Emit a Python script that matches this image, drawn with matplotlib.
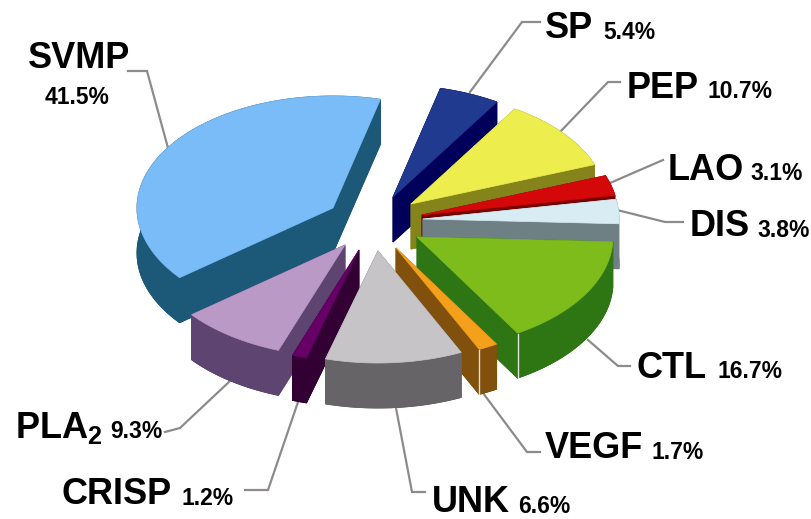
import numpy as np
import matplotlib
matplotlib.use("Agg")
import matplotlib.pyplot as plt
from matplotlib.patches import Polygon

plt.rcParams['font.family'] = ['Liberation Sans', 'DejaVu Sans']
plt.rcParams['mathtext.fontset'] = 'custom'
plt.rcParams['mathtext.bf'] = 'Liberation Sans:bold'
plt.rcParams['mathtext.rm'] = 'Liberation Sans:bold'

# Data, clockwise from the top
categories = ['SP', 'PEP', 'LAO', 'DIS', 'CTL', 'VEGF', 'UNK', 'CRISP', 'PLA$_{\\mathbf{2}}$', 'SVMP']
printed_pct = [5.4, 10.7, 3.1, 3.8, 16.7, 1.7, 6.6, 1.2, 9.3, 41.5]
# shares as the slices are actually drawn in the picture (UNK is drawn wider than printed)
drawn_share = [5.0, 10.4, 2.9, 3.5, 15.75, 1.6, 11.3, 1.2, 8.8, 39.6]

top_colors = ['#203A90', '#EDEE4E', '#D40808', '#D8ECF4', '#7EBC1C',
              '#F4A01A', '#C6C4C6', '#660066', '#BB99C6', '#7ABCF8']
wall_colors = ['#00005A', '#85841A', '#7A0000', '#6E8084', '#2E7614',
               '#80500C', '#666466', '#330033', '#5E4470', '#1C5878']
explode_x = [18, 36, 47, 48, 42, 21, 3, -16, -30, -42]
explode_y = [-28, -21, -10, -6, 12, 23, 26, 25, 20, -17]
draw_order = [0, 1, 2, 3, 4, 5, 9, 8, 7, 6]
seam_slices = (4, 5)

CX, CY, RX, RY, DEPTH, START = 375, 225, 196, 112, 45, 14

# label: name x, name baseline y, pct x, pct baseline y
label_pos = [(545, 38, 603, 39), (627, 98, 708, 98), (668, 180, 750, 180),
             (690, 236, 757, 237), (637, 378, 718, 378), (545, 458, 652, 459),
             (432, 512, 518, 513), (62, 504, 182, 505), (15, 438, 110, 438),
             (28, 68, 45, 104)]
leaders = [[(540, 22), (522, 22), (470, 92)],
           [(620, 82), (608, 82), (560, 132)],
           [(663, 160), (610, 183)],
           [(683, 222), (665, 222), (617, 210)],
           [(588, 340), (618, 366), (630, 366)],
           [(483, 393), (527, 452), (540, 452)],
           [(396, 408), (412, 492), (425, 492)],
           [(298, 402), (268, 490), (245, 490)],
           [(230, 381), (180, 428), (165, 432)],
           [(128, 71), (147, 71), (168, 148)]]

fig = plt.figure(figsize=(8.12, 5.19), dpi=100)
ax = fig.add_axes([0, 0, 1, 1])
ax.set_xlim(0, 812)
ax.set_ylim(519, 0)
ax.axis('off')

for pts in leaders:
    xs, ys = zip(*pts)
    ax.plot(xs, ys, color='#8E8A8A', lw=1.6, solid_joinstyle='miter', zorder=1)

spans = np.array(drawn_share) / sum(drawn_share) * 360
starts = START + np.concatenate([[0], np.cumsum(spans)[:-1]])

zo = 2
for i in draw_order:
    a0, a1 = starts[i], starts[i] + spans[i]
    tx = CX + explode_x[i]
    ty = CY + explode_y[i]
    th = np.radians(np.linspace(a0, a1, max(int(spans[i]) * 2, 6)))
    arc_x = tx + RX * np.sin(th)
    arc_y = ty - RY * np.cos(th)
    px = np.concatenate([[tx], arc_x])
    py = np.concatenate([[ty], arc_y])
    col = wall_colors[i]
    # extruded body: lower face, arc band, two radial sides, all as solid pieces
    pieces = [np.column_stack([px, py + DEPTH]),
              np.column_stack([np.r_[arc_x, arc_x[::-1]], np.r_[arc_y, arc_y[::-1] + DEPTH]]),
              np.array([(tx, ty), (arc_x[0], arc_y[0]), (arc_x[0], arc_y[0] + DEPTH), (tx, ty + DEPTH)]),
              np.array([(tx, ty), (arc_x[-1], arc_y[-1]), (arc_x[-1], arc_y[-1] + DEPTH), (tx, ty + DEPTH)])]
    for p in pieces:
        ax.add_patch(Polygon(p, closed=True, fc=col, ec=col, lw=0.6, zorder=zo))
    zo += 1
    if i in seam_slices:
        ax.plot([arc_x[-1]] * 2, [arc_y[-1] + 1, arc_y[-1] + DEPTH], color='#DDE3DA', lw=1.0, zorder=zo)
        zo += 1
    ax.add_patch(Polygon(np.column_stack([px, py]), closed=True, fc=top_colors[i],
                         ec=top_colors[i], lw=0.5, zorder=zo))
    zo += 1

for name, pct, (nx, ny, vx, vy) in zip(categories, printed_pct, label_pos):
    ax.text(nx, ny, name, fontsize=26, fontweight='bold', color='#000000', ha='left', va='baseline', zorder=50)
    ax.text(vx, vy, f'{pct}%', fontsize=16.5, fontweight='bold', color='#000000', ha='left', va='baseline', zorder=50)

fig.savefig('out.png', dpi=100, facecolor='white')
